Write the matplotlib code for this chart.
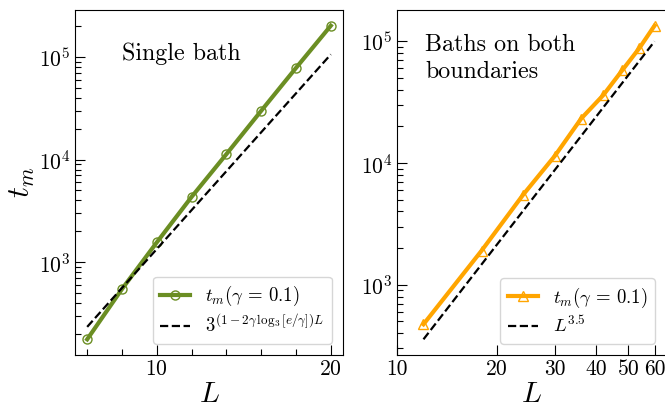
import numpy as np
import matplotlib
matplotlib.use("Agg")
import matplotlib.pyplot as plt
from matplotlib.ticker import MultipleLocator, NullLocator, FixedLocator, FixedFormatter

# data
# ---------------------------

# single bath
L_single = [6, 8, 10, 12, 14, 16, 18, 20]
tm_single = [177, 547, 1560, 4330, 11300, 29900, 78300, 202000]
L_single_fit = [6, 20]
tm_single_fit = [234, 106000]

# baths on both boundaries
L_both = [12, 18, 24, 30, 36, 42, 48, 54, 60]
tm_both = [473, 1910, 5470, 11500, 23200, 36200, 58200, 88100, 134600]
L_both_fit = [12, 60]
tm_both_fit = [356, 100000]

xticks_both = [10, 20, 30, 40, 50, 60]

# plot style
# ----------
plt.rcParams["font.family"] = "serif"
plt.rcParams["font.serif"] = ["cmr10"]
plt.rcParams["mathtext.fontset"] = "cm"
plt.rcParams["axes.formatter.use_mathtext"] = True
plt.rcParams["axes.unicode_minus"] = False

fig = plt.figure(figsize=(6.65, 4.12), dpi=100)
W, H = 665., 412.
ax1 = fig.add_axes([75 / W, 57 / H, 268 / W, 345 / H])
ax2 = fig.add_axes([397.3 / W, 57 / H, 268.7 / W, 345 / H])

green = "#6b8e23"
orange = "#ffa500"

# left panel
ax1.plot(L_single, tm_single, "-o", color=green, lw=3, ms=6.5, mfc="none",
         mew=1, label=r"$t_m(\gamma\,=\,0.1)$")
ax1.plot(L_single_fit, tm_single_fit, "--", color="k", lw=1.6,
         label=r"$3^{(1-2\gamma\,\log_3[e/\gamma])L}$")
ax1.set_yscale("log")
ax1.xaxis.set_major_locator(MultipleLocator(10))
ax1.xaxis.set_minor_locator(MultipleLocator(2))
ax1.text(0.175, 0.905, "Single bath", transform=ax1.transAxes,
         fontsize=17.3, va="top", ha="left")
ax1.set_xlabel(r"$L$", fontsize=21, labelpad=2)
ax1.set_ylabel(r"$t_m$", fontsize=22, labelpad=1)
ax1.legend(loc="lower right", fontsize=13.5, handlelength=1.6,
           borderaxespad=0.6, labelspacing=0.3)

# right panel
ax2.plot(L_both, tm_both, "-^", color=orange, lw=3, ms=6.5, mfc="none",
         mew=1, label=r"$t_m(\gamma\,=\,0.1)$")
ax2.plot(L_both_fit, tm_both_fit, "--", color="k", lw=1.6,
         label=r"$L^{3.5}$")
ax2.set_xscale("log")
ax2.set_yscale("log")
ax2.set_xlim(10, 65)
ax2.xaxis.set_major_locator(FixedLocator(xticks_both))
ax2.xaxis.set_major_formatter(FixedFormatter([str(v) for v in xticks_both]))
ax2.xaxis.set_minor_locator(NullLocator())
ax2.text(0.103, 0.932, "Baths on both\nboundaries", transform=ax2.transAxes,
         fontsize=17.3, va="top", ha="left", linespacing=1.3)
ax2.set_xlabel(r"$L$", fontsize=21, labelpad=2)
ax2.legend(loc="lower right", fontsize=13.5, handlelength=1.6,
           borderaxespad=0.6, labelspacing=0.3)

for ax in (ax1, ax2):
    ax.tick_params(which="both", direction="in", labelsize=15.5)
    ax.tick_params(which="major", length=7.5, width=0.8)
    ax.tick_params(which="minor", length=4.5, width=0.8)

fig.savefig("out.png", dpi=100)
